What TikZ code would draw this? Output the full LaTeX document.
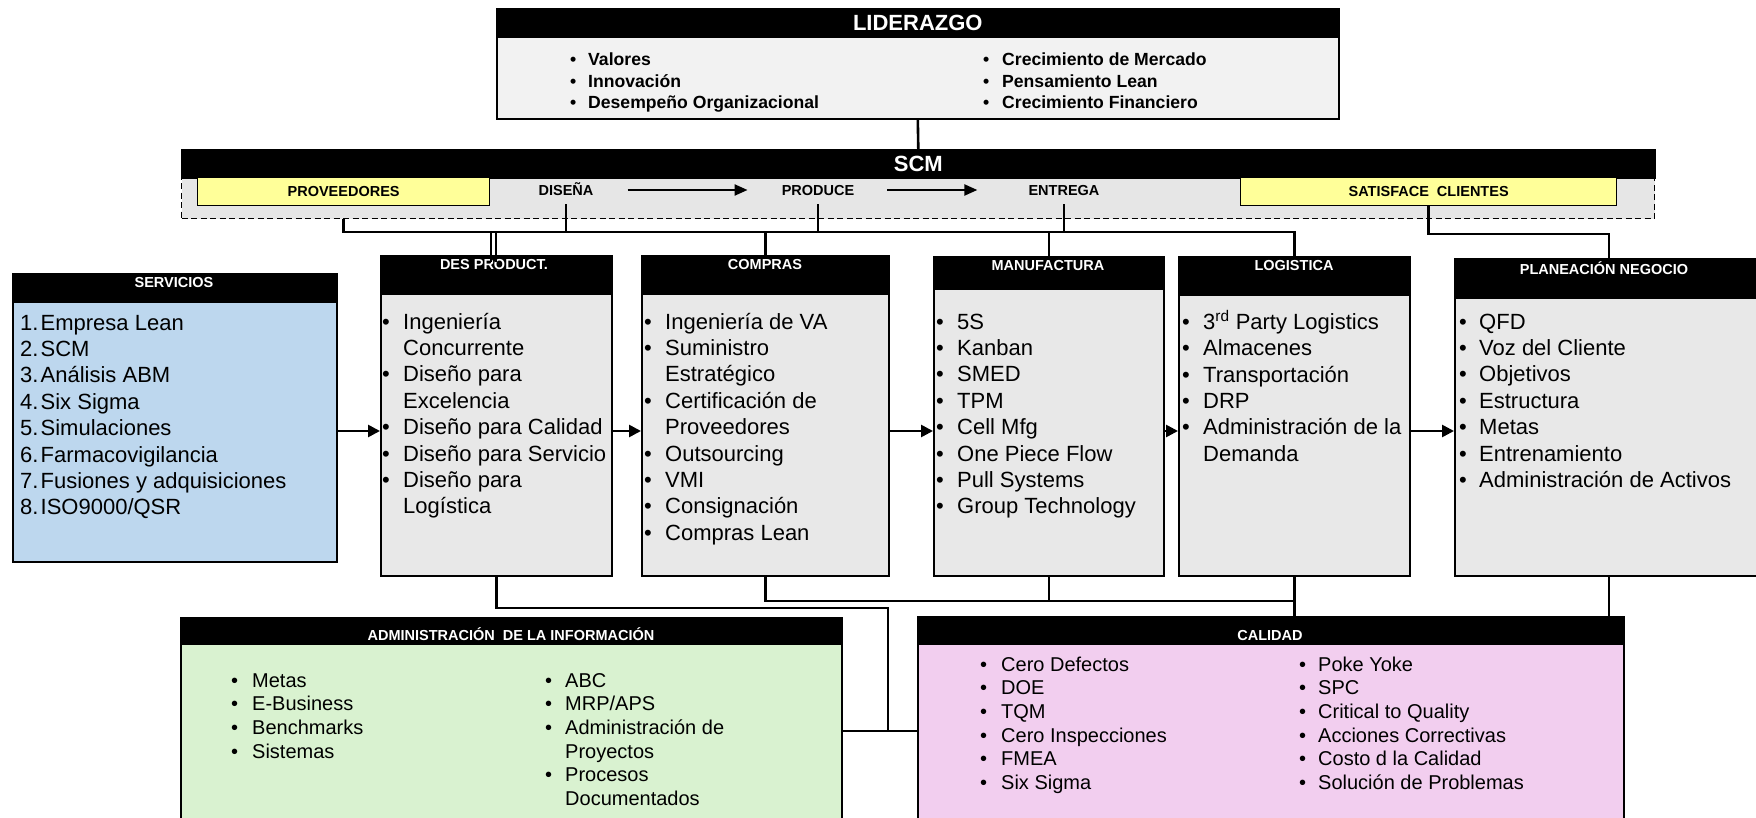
\documentclass[tikz,border=0pt]{standalone}
\usepackage{fontspec}
\setmainfont{Liberation Sans}
\usetikzlibrary{arrows.meta}

\definecolor{bodygray}{HTML}{E8E8E8}
\definecolor{leadgray}{HTML}{F2F2F2}
\definecolor{bandgray}{HTML}{E6E6E6}
\definecolor{servblue}{HTML}{BDD7EE}
\definecolor{infogreen}{HTML}{D9F2D0}
\definecolor{qualpink}{HTML}{F2CEEF}
\definecolor{tagyellow}{HTML}{FFFF99}

% bullet / number hanging to the left of the text origin
\newcommand{\litem}[1][21pt]{\llap{\makebox[#1][l]{•}}\ignorespaces}
\newcommand{\lnum}[1]{\llap{\makebox[20.5pt][l]{#1}}\ignorespaces}

\newcommand{\fbody}{\fontsize{22}{26.4}\selectfont}
\newcommand{\flead}{\fontsize{17.6}{21.3}\selectfont\bfseries}
\newcommand{\fsmall}{\fontsize{20}{23.7}\selectfont}
\newcommand{\fhead}{\fontsize{14.5}{17}\selectfont\bfseries}
\newcommand{\fbig}{\fontsize{22}{26}\selectfont\bfseries}

\tikzset{
  box/.style={draw=black, line width=1.6pt, inner sep=0pt, anchor=north west},
  hdr/.style={fill=black, draw=black, line width=1.6pt, inner sep=0pt, anchor=north west},
  hdrtext/.style={text=white, font=\fhead, inner sep=0pt, text height=10.4pt, text depth=0pt},
  bigtext/.style={text=white, font=\fbig, inner sep=0pt, text height=15.8pt, text depth=0pt},
  bandtext/.style={text=black, font=\fhead, inner sep=0pt, text height=10.4pt, text depth=0pt},
  bodylist/.style={inner sep=0pt, anchor=north west, align=left, font=\fbody},
  leadlist/.style={inner sep=0pt, anchor=north west, align=left, font=\flead},
  smalllist/.style={inner sep=0pt, anchor=north west, align=left, font=\fsmall},
  conn/.style={line width=2.6pt},
  arr/.style={line width=2.6pt, -{Triangle[length=12pt,width=12pt]}},
  scmarr/.style={line width=2.2pt, -{Triangle[length=13pt,width=11pt]}},
}

\begin{document}
\begin{tikzpicture}[x=1pt,y=-1pt]
\useasboundingbox (0,0) rectangle (1756,818);

% ---------- LIDERAZGO ----------
\node[hdr, minimum width=842pt, minimum height=28pt] (leadH) at (496,8) {};
\node[box, fill=leadgray, minimum width=842pt, minimum height=82pt] (lead) at (496,36) {};
\node[bigtext] (leadT) at (leadH.center) {LIDERAZGO};
\node[leadlist] (leadA) at (588,50.8) {\strut\litem[18pt] Valores\\\litem[18pt] Innovación\\\litem[18pt] Desempeño Organizacional};
\node[leadlist] (leadB) at (1002,50.8) {\strut\litem[19pt] Crecimiento de Mercado\\\litem[19pt] Pensamiento Lean\\\litem[19pt] Crecimiento Financiero};

% ---------- SCM band ----------
\node[draw=black, dashed, dash pattern=on 6pt off 3.5pt, line width=1.3pt, fill=bandgray,
      minimum width=1473pt, minimum height=41pt, anchor=north west, inner sep=0pt] (band) at (181,177) {};
\node[hdr, minimum width=1473pt, minimum height=28pt] (scmH) at (181,149) {};
\node[bigtext] (scmT) at (scmH.center) {SCM};
\node[box, line width=1.3pt, fill=tagyellow, minimum width=292pt, minimum height=28pt] (provB) at (197,177) {};
\node[bandtext] (provT) at (provB.center) {PROVEEDORES};
\node[box, line width=1.3pt, fill=tagyellow, minimum width=376pt, minimum height=28pt] (satB) at (1240,177) {};
\node[bandtext] (satT) at (satB.center) {SATISFACE\ \ CLIENTES};
\node[bandtext] (dis) at (566,190) {DISEÑA};
\node[bandtext] (pro) at (818,190) {PRODUCE};
\node[bandtext] (ent) at (1064,190) {ENTREGA};
\draw[scmarr] ([xshift=34pt]dis.east) -- ([xshift=-34pt]pro.west);
\draw[scmarr] ([xshift=33pt]pro.east) -- ([xshift=-51pt]ent.west);

% ---------- SERVICIOS ----------
\node[hdr, minimum width=324pt, minimum height=28pt] (servH) at (12,273) {};
\node[box, fill=servblue, minimum width=324pt, minimum height=260pt] (serv) at (12,301) {};
\node[hdrtext] (servT) at (174,282) {SERVICIOS};
\node[bodylist] (servL) at (40.5,311.5) {\strut\lnum{1.}Empresa Lean\\\lnum{2.}SCM\\\lnum{3.}Análisis ABM\\\lnum{4.}Six Sigma\\\lnum{5.}Simulaciones\\\lnum{6.}Farmacovigilancia\\\lnum{7.}Fusiones y adquisiciones\\\lnum{8.}ISO9000/QSR};

% ---------- DES PRODUCT. ----------
\node[hdr, minimum width=231pt, minimum height=38pt] (desH) at (380,255) {};
\node[box, fill=bodygray, minimum width=231pt, minimum height=282pt] (des) at (380,293) {};
\node[hdrtext] (desT) at (494,264) {DES PRODUCT.};
\node[bodylist] (desL) at (403,310.5) {\strut\litem Ingeniería\\Concurrente\\\litem Diseño para\\Excelencia\\\litem Diseño para Calidad\\\litem Diseño para Servicio\\\litem Diseño para\\Logística};

% ---------- COMPRAS ----------
\node[hdr, minimum width=247pt, minimum height=38pt] (comH) at (641,255) {};
\node[box, fill=bodygray, minimum width=247pt, minimum height=282pt] (com) at (641,293) {};
\node[hdrtext] (comT) at (765,264) {COMPRAS};
\node[bodylist] (comL) at (665,310.5) {\strut\litem Ingeniería de VA\\\litem Suministro\\Estratégico\\\litem Certificación de\\Proveedores\\\litem Outsourcing\\\litem VMI\\\litem Consignación\\\litem Compras Lean};

% ---------- MANUFACTURA ----------
\node[hdr, minimum width=230pt, minimum height=32pt] (manH) at (933,256) {};
\node[box, fill=bodygray, minimum width=230pt, minimum height=287pt] (man) at (933,288) {};
\node[hdrtext] (manT) at (1048,265) {MANUFACTURA};
\node[bodylist] (manL) at (957,310.5) {\strut\litem 5S\\\litem Kanban\\\litem SMED\\\litem TPM\\\litem Cell Mfg\\\litem One Piece Flow\\\litem Pull Systems\\\litem Group Technology};

% ---------- LOGISTICA ----------
\node[hdr, minimum width=231pt, minimum height=38pt] (logH) at (1178,256) {};
\node[box, fill=bodygray, minimum width=231pt, minimum height=281pt] (log) at (1178,294) {};
\node[hdrtext] (logT) at (1294,265) {LOGISTICA};
\node[bodylist] (logL) at (1203,310.5) {\strut\litem[21pt] 3\textsuperscript{rd} Party Logistics\\\litem[21pt] Almacenes\\\litem[21pt] Transportación\\\litem[21pt] DRP\\\litem[21pt] Administración de la\\Demanda};

% ---------- PLANEACIÓN NEGOCIO ----------
\node[hdr, minimum width=308pt, minimum height=39pt] (planH) at (1454,258) {};
\node[box, fill=bodygray, minimum width=308pt, minimum height=278pt] (plan) at (1454,297) {};
\node[hdrtext] (planT) at (1604,269) {PLANEACIÓN NEGOCIO};
\node[bodylist] (planL) at (1479,310.5) {\strut\litem[20pt] QFD\\\litem[20pt] Voz del Cliente\\\litem[20pt] Objetivos\\\litem[20pt] Estructura\\\litem[20pt] Metas\\\litem[20pt] Entrenamiento\\\litem[20pt] Administración de Activos};

% ---------- ADMINISTRACIÓN DE LA INFORMACIÓN ----------
\node[hdr, minimum width=661pt, minimum height=26pt] (adminH) at (180,617) {};
\node[box, fill=infogreen, minimum width=661pt, minimum height=185pt] (admin) at (180,643) {};
\node[hdrtext] (adminT) at (511,635) {ADMINISTRACIÓN\ \ DE LA INFORMACIÓN};
\node[smalllist] (adminA) at (252,670.4) {\strut\litem Metas\\\litem E-Business\\\litem Benchmarks\\\litem Sistemas};
\node[smalllist] (adminB) at (565,670.4) {\strut\litem[20pt] ABC\\\litem[20pt] MRP/APS\\\litem[20pt] Administración de\\Proyectos\\\litem[20pt] Procesos\\Documentados};

% ---------- CALIDAD ----------
\node[hdr, minimum width=706pt, minimum height=27pt] (calH) at (917,616) {};
\node[box, fill=qualpink, minimum width=706pt, minimum height=185pt] (cal) at (917,643) {};
\node[hdrtext] (calT) at (1270,635) {CALIDAD};
\node[smalllist] (calA) at (1001,654.4) {\strut\litem Cero Defectos\\\litem DOE\\\litem TQM\\\litem Cero Inspecciones\\\litem FMEA\\\litem Six Sigma};
\node[smalllist] (calB) at (1318,654.4) {\strut\litem[19pt] Poke Yoke\\\litem[19pt] SPC\\\litem[19pt] Critical to Quality\\\litem[19pt] Acciones Correctivas\\\litem[19pt] Costo d la Calidad\\\litem[19pt] Solución de Problemas};

% ---------- routing levels ----------
\coordinate (busY) at (0,232);
\coordinate (satY) at (0,234);
\coordinate (arrY) at (0,431);
\coordinate (qualY) at (0,601);
\coordinate (infoY) at (0,608);
\coordinate (linkY) at (0,731);
\coordinate (linkX) at (888,0);
\coordinate (desTieA) at (491,0);
\coordinate (desTieB) at (496,0);
\coordinate (desTieEnd) at (0,262);

% ---------- connectors from the top ----------
\draw[conn] (lead.south) -- (scmH.north);
\draw[conn] (provB.south |- band.south) |- (logH.north |- busY) -- (logH.north);
\draw[conn] ([yshift=-9pt]dis.south) -- (dis.south |- busY);
\draw[conn] ([yshift=-9pt]pro.south) -- (pro.south |- busY);
\draw[conn] ([yshift=-9pt]ent.south) -- (ent.south |- busY);
\draw[conn] (desTieA |- busY) -- (desTieA |- desTieEnd);
\draw[conn] (desTieB |- busY) -- (desTieB |- desTieEnd);
\draw[conn] (comH.north |- busY) -- (comH.north);
\draw[conn] (manH.north |- busY) -- (manH.north);
\draw[conn] (satB.south) |- (planH.north |- satY) -- (planH.north);

% ---------- flow arrows ----------
\draw[arr] (serv.east |- arrY) -- (des.west |- arrY);
\draw[arr] (des.east |- arrY) -- (com.west |- arrY);
\draw[arr] (com.east |- arrY) -- (man.west |- arrY);
\draw[arr] (man.east |- arrY) -- (log.west |- arrY);
\draw[arr] (log.east |- arrY) -- (plan.west |- arrY);

% ---------- connectors to the bottom row ----------
\draw[conn] (des.south) |- (linkX |- infoY) -- (linkX |- linkY);
\draw[conn] (admin.east |- linkY) -- (cal.west |- linkY);
\draw[conn] (com.south) |- (log.south |- qualY);
\draw[conn] (man.south) -- (man.south |- qualY);
\draw[conn] (log.south) -- (log.south |- calH.north);
\draw[conn] (plan.south) -- (plan.south |- calH.north);
\end{tikzpicture}
\end{document}
